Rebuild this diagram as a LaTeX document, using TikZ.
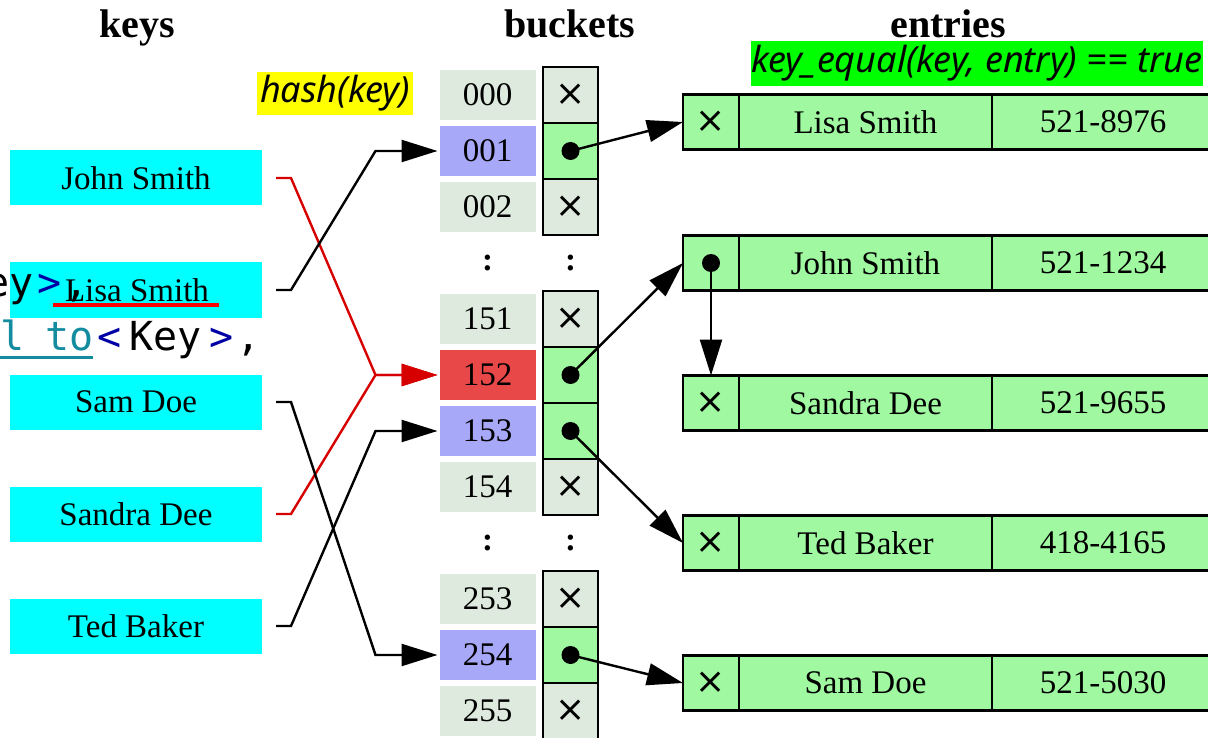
\documentclass[tikz,border=0pt]{standalone}
\usepackage{fontspec}
\setmainfont{Liberation Serif}
\newfontfamily\codefont{DejaVu Sans Mono}
\newfontfamily\notefont{Noto Sans}
\newfontfamily\crossfont{DejaVu Sans}
\usetikzlibrary{arrows.meta,calc}

\definecolor{keycyan}{RGB}{0,255,255}
\definecolor{idxgrey}{RGB}{221,234,221}
\definecolor{idxblue}{RGB}{168,168,248}
\definecolor{idxred}{RGB}{232,72,72}
\definecolor{cellgreen}{RGB}{160,248,160}
\definecolor{hashyellow}{RGB}{255,255,0}
\definecolor{eqgreen}{RGB}{0,255,0}
\definecolor{codenavy}{RGB}{0,0,165}
\definecolor{codeteal}{RGB}{20,140,160}
\definecolor{edgered}{RGB}{214,0,0}

\newcommand{\nil}{{\crossfont\fontsize{36}{40}\selectfont ×}}

\tikzset{
  x=1pt, y=-1pt,
  every node/.style={inner sep=0pt, outer sep=0pt},
  txt/.style={font=\fontsize{33}{38}\selectfont},
  title/.style={font=\fontsize{40}{48}\selectfont\bfseries, anchor=base},
  keybox/.style={txt, fill=keycyan, minimum width=252pt, minimum height=55pt},
  idx/.style={txt, fill=idxgrey, minimum width=96pt, minimum height=50pt},
  ptr/.style={txt, draw, line width=2.2pt, fill=idxgrey, minimum width=55pt, minimum height=56pt},
  used/.style={fill=cellgreen},
  entry/.style={txt, draw, line width=2.2pt, fill=cellgreen, minimum height=55pt},
  ex/.style={entry, minimum width=56pt},
  ename/.style={entry, minimum width=253pt},
  enum/.style={entry, minimum width=222pt},
  note/.style={font=\fontsize{36}{40}\selectfont\notefont\itshape},
  code/.style={font=\fontsize{40}{48}\selectfont\codefont},
  link/.style={line width=2.4pt, -{Triangle[length=36pt,width=22pt]}},
  redlink/.style={link, draw=edgered, -{Triangle[length=36pt,width=22pt,fill=edgered]}},
}

\begin{document}
\begin{tikzpicture}
\useasboundingbox (0,0) rectangle (1208,738);
\clip (0,0) rectangle (1208,738);

% column titles
\node[title] (tkeys) at (137,38) {keys};
\node[title] (tbuckets) at (570,38) {buckets};
\node[title] (tentries) at (948,38) {entries};

% keys
\node[keybox] (kjohn)   at (136,178) {John Smith};
\node[keybox] (klisa)   at (136,290) {};
\node[keybox] (ksam)    at (136,402) {Sam Doe};
\node[keybox] (ksandra) at (136,514) {Sandra Dee};
\node[keybox] (kted)    at (136,626) {Ted Baker};

% source code lines showing through
\node[code, anchor=base east] (codeey) at (34,297) {ey};
\node[code, anchor=base, text=codenavy] (codegt) at (50,297) {>};
\node[code, anchor=base] (codecomma) at (77,297) {,};
\node[code, anchor=base east, text=codeteal] (codeal) at (25,350) {al};
\node[code, anchor=base west, text=codeteal] (codeto) at (45,350) {to};
\node[code, anchor=base, text=codenavy] (codelt) at (110,350) {<};
\node[code, anchor=base west] (codekey) at (129,350) {Key};
\node[code, anchor=base, text=codenavy] (codegt2) at (222,350) {>};
\node[code, anchor=base] (codecomma2) at (249,350) {,};
\draw[codeteal, line width=3pt] (0,357) coordinate (ulstart) -- (93,357) coordinate (ulend);
\node[txt] (lisatext) at (137,290) {Lisa Smith};
\draw[red, line width=4pt] ([xshift=-84pt,yshift=-15pt]lisatext.center) -- ([xshift=82pt,yshift=-15pt]lisatext.center);

% bucket indices
\node[idx] (b000) at (487.5,95) {000};
\node[idx, fill=idxblue] (b001) at (487.5,151) {001};
\node[idx] (b002) at (487.5,207) {002};
\node[txt] (bdots1) at (487.5,263) {\textbf{:}};
\node[idx] (b151) at (487.5,319) {151};
\node[idx, fill=idxred] (b152) at (487.5,375) {152};
\node[idx, fill=idxblue] (b153) at (487.5,431) {153};
\node[idx] (b154) at (487.5,487) {154};
\node[txt] (bdots2) at (487.5,543) {\textbf{:}};
\node[idx] (b253) at (487.5,599) {253};
\node[idx, fill=idxblue] (b254) at (487.5,655) {254};
\node[idx] (b255) at (487.5,711) {255};

% bucket slots
\node[ptr] (p000) at (570.5,95) {\nil};
\node[ptr, used] (p001) at (570.5,151) {};
\node[ptr] (p002) at (570.5,207) {\nil};
\node[txt] (pdots1) at (570.5,263) {\textbf{:}};
\node[ptr] (p151) at (570.5,319) {\nil};
\node[ptr, used] (p152) at (570.5,375) {};
\node[ptr, used] (p153) at (570.5,431) {};
\node[ptr] (p154) at (570.5,487) {\nil};
\node[txt] (pdots2) at (570.5,543) {\textbf{:}};
\node[ptr] (p253) at (570.5,599) {\nil};
\node[ptr, used] (p254) at (570.5,655) {};
\node[ptr] (p255) at (570.5,711) {\nil};

% entries
\foreach \n/\y/\nm/\ph/\nx in {1/122/Lisa Smith/521-8976/\nil, 2/263/John Smith/521-1234/, 3/403/Sandra Dee/521-9655/\nil, 4/543/Ted Baker/418-4165/\nil, 5/683/Sam Doe/521-5030/\nil}{
  \node[ex] (e\n x) at (711,\y) {\nx};
  \node[ename] (e\n n) at (865.5,\y) {\nm};
  \node[enum] (e\n p) at (1103,\y) {\ph};
}

% labels
\node[note, fill=hashyellow, minimum width=156pt, minimum height=43pt] (hashlbl) at (335,93.5) {hash(key)};
\node[note, fill=eqgreen, minimum width=452pt, minimum height=45pt] (eqlbl) at (977,63.5) {key\_equal(key, entry) == true};

% pointer dots
\foreach \c in {p001,p152,p153,p254,e2x}
  \fill (\c.center) circle[radius=9];

% hashing keys to buckets
\draw[redlink] ([xshift=14pt]kjohn.east) -- ++(15,0) -- ([xshift=-64pt]b152.west) -- ([xshift=-2pt]b152.west);
\draw[redlink] ([xshift=14pt]ksandra.east) -- ++(15,0) -- ([xshift=-64pt]b152.west) -- ([xshift=-2pt]b152.west);
\draw[link] ([xshift=14pt]klisa.east) -- ++(15,0) -- ([xshift=-64pt]b001.west) -- ([xshift=-2pt]b001.west);
\draw[link] ([xshift=14pt]ksam.east) -- ++(15,0) -- ([xshift=-64pt]b254.west) -- ([xshift=-2pt]b254.west);
\draw[link] ([xshift=14pt]kted.east) -- ++(15,0) -- ([xshift=-64pt]b153.west) -- ([xshift=-2pt]b153.west);

% buckets to entries
\draw[link] (p001.center) -- (e1x.west);
\draw[link] (p152.center) -- (e2x.west);
\draw[link] (p153.center) -- (e4x.west);
\draw[link] (p254.center) -- (e5x.west);
\draw[link] (e2x.center) -- (e3x.north);
\end{tikzpicture}
\end{document}
